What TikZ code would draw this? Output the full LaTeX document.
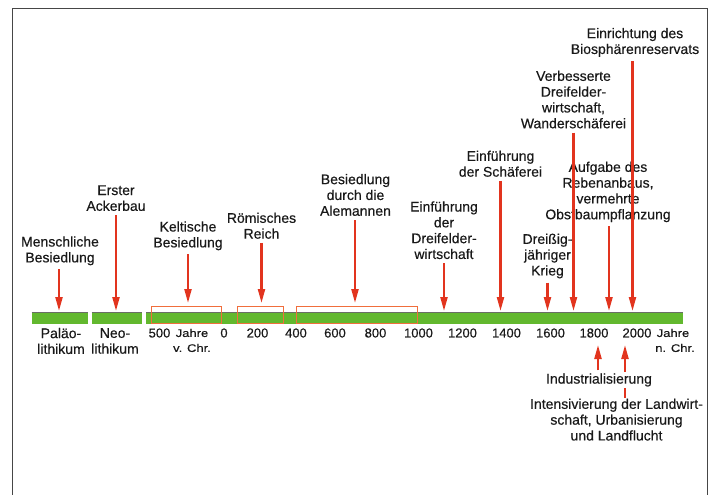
\documentclass[tikz,border=0pt]{standalone}
\usepackage{fontspec}
\setmainfont[FakeBold=0.35]{Liberation Sans}
\newfontfamily\widefont[FakeStretch=1.18,FakeBold=0.35]{Liberation Sans}
\usetikzlibrary{arrows.meta}
\definecolor{arrred}{RGB}{226,52,30}
\definecolor{bargreen}{RGB}{98,184,46}
\definecolor{bartop}{RGB}{105,110,100}
\definecolor{boxorange}{RGB}{240,110,60}
\definecolor{txt}{RGB}{25,25,25}
\definecolor{framegray}{RGB}{70,70,70}
\begin{document}
\begin{tikzpicture}[x=1pt,y=-1pt,
  lab/.style={font=\fontsize{14}{15.8}\selectfont, align=center, inner sep=0pt, text=txt, anchor=north},
  num/.style={font=\fontsize{13}{15}\selectfont, inner sep=0pt, text=txt},
  small/.style={font=\widefont\fontsize{11}{15}\selectfont, align=center, inner sep=0pt, text=txt},
  arr/.style={draw=arrred, line width=2.2pt, -{Triangle[length=14pt,width=7pt]}, shorten <=4pt},
  period/.style={draw=boxorange, line width=0.8pt}]
\useasboundingbox (0,0) rectangle (712,495);
\fill[white] (0,0) rectangle (712,495);
\draw[framegray, line width=1.3pt] (12.7,520) -- (12.7,8.3) -- (707.7,8.3) -- (707.7,520);

% bars
\foreach \a/\b in {31.7/87.7, 91.7/141.7, 146/683}{
  \fill[bargreen] (\a,312) rectangle (\b,324);
  \draw[bartop, line width=1.2pt] (\a,312.6) -- (\b,312.6);
}
% periods
\draw[period] (151,306) rectangle (221.7,323.3);
\draw[period] (237,306) rectangle (283.3,323.3);
\draw[period] (296.5,306) rectangle (417.3,323.3);

% arrow end coordinates
\coordinate (e1) at (59,311);
\coordinate (e2) at (116,311);
\coordinate (e3) at (188,303);
\coordinate (e4) at (261.5,303);
\coordinate (e5) at (355,303);
\coordinate (e6) at (444,311);
\coordinate (e7) at (500.5,311);
\coordinate (e8) at (547.5,311);
\coordinate (e9) at (573.5,311);
\coordinate (e10) at (609,311);
\coordinate (e11) at (632.5,311);
\coordinate (u1) at (598,345);
\coordinate (u2) at (625,345);

% labels
\node[lab] (l1) at (60,236.2) {Menschliche\\Besiedlung};
\node[lab] (l2) at (116,185.2) {Erster\\Ackerbau};
\node[lab] (l3) at (188,221.2) {Keltische\\Besiedlung};
\node[lab] (l4) at (261.5,212.5) {Römisches\\Reich};
\node[lab] (l5) at (355.5,173.8) {Besiedlung\\durch die\\Alemannen};
\node[lab] (l6) at (444,201.2) {Einführung\\der\\Dreifelder-\\wirtschaft};
\node[lab] (l7) at (500.5,150.5) {Einführung\\der Schäferei};
\node[lab] (l8) at (547.5,233.5) {Dreißig-\\jähriger\\Krieg};
\node[lab] (l9) at (573.5,70.5) {Verbesserte\\Dreifelder-\\wirtschaft,\\Wanderschäferei};
\node[lab] (l10) at (608,161.5) {Aufgabe des\\Rebenanbaus,\\vermehrte\\Obstbaumpflanzung};
\node[lab] (l11) at (635,27.8) {Einrichtung des\\Biosphärenreservats};
\node[lab] (l13) at (616.5,398.5) {Intensivierung der Landwirt-\\schaft, Urbanisierung\\und Landflucht};

% arrows
\draw[arr] (l1.south -| e1) -- (e1);
\draw[arr] (l2.south -| e2) -- (e2);
\draw[arr] (l3.south -| e3) -- (e3);
\draw[arr] (l4.south -| e4) -- (e4);
\draw[arr] (l5.south -| e5) -- (e5);
\draw[arr] (l6.south -| e6) -- (e6);
\draw[arr] (l7.south -| e7) -- (e7);
\draw[arr] (l8.south -| e8) -- (e8);
\draw[arr] (l9.south -| e9) -- (e9);
\draw[arr] (l10.south -| e10) -- (e10);
\draw[arr] (l11.south -| e11) -- (e11);
\draw[arr, shorten <=1pt] (l13.north -| u2) -- (u2);
\node[lab, anchor=center, fill=white, inner sep=1pt] (l12) at (599,380) {Industrialisierung};
\draw[arr, shorten <=2pt] (l12.north -| u1) -- (u1);

% scale labels
\node[lab, anchor=center] (p1) at (61,341) {Paläo-\\lithikum};
\node[lab, anchor=center] (p2) at (115,341) {Neo-\\lithikum};
\node[num] (n500) at (159.5,333) {500};
\node[small] (jv) at (192,340.5) {Jahre\\v. Chr.};
\node[num] (n0) at (224,333) {0};
\node[num] (n200) at (257.5,333) {200};
\node[num] (n400) at (296,333) {400};
\node[num] (n600) at (335,333) {600};
\node[num] (n800) at (375.5,333) {800};
\node[num] (n1000) at (418.5,333) {1000};
\node[num] (n1200) at (462.5,333) {1200};
\node[num] (n1400) at (506.5,333) {1400};
\node[num] (n1600) at (550.5,333) {1600};
\node[num] (n1800) at (594,333) {1800};
\node[num] (n2000) at (637,333) {2000};
\node[small] (jn) at (673,340.5) {Jahre\\\hspace*{4pt}n. Chr.};
\end{tikzpicture}
\end{document}
